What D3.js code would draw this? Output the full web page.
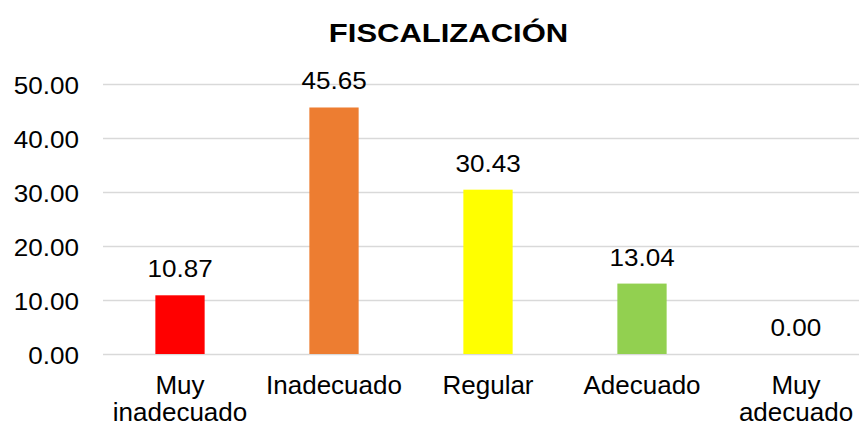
<!DOCTYPE html>
<html lang="es">
<head>
<meta charset="UTF-8">
<title>Fiscalización</title>
<script src="https://d3js.org/d3.v7.min.js"></script>
<style>
  body { margin: 0; background: #fff; }
  text { font-family: "Liberation Sans", Arial, sans-serif; fill: #000; }
</style>
</head>
<body>
<svg id="chart" width="859" height="426"></svg>
<script>
// data
var categories = [["Muy", "inadecuado"], ["Inadecuado"], ["Regular"], ["Adecuado"], ["Muy", "adecuado"]];
var values = [10.87, 45.65, 30.43, 13.04, 0.00];
var barColors = ["#ff0000", "#ed7d31", "#ffff00", "#92d050", "#a5a5a5"];
var yTicks = [0, 10, 20, 30, 40, 50];

var svg = d3.select("#chart");

var x = d3.scaleBand()
  .domain(d3.range(values.length))
  .range([103, 873])
  .paddingInner(0.68)
  .paddingOuter(0.34);

var y = d3.scaleLinear().domain([0, 50]).range([354, 84]);

// text with a horizontal stretch, like the original raster
function stretchText(g, tx, ty, size, sx, anchor, str, weight) {
  return g.append("text")
    .attr("transform", "translate(" + tx + "," + ty + ") scale(" + sx + ",1)")
    .attr("text-anchor", anchor)
    .style("font-size", size + "px")
    .style("font-weight", weight || "normal")
    .text(str);
}

// title
stretchText(svg, 448.5, 42, 26.5, 1.17, "middle", "FISCALIZACIÓN", "bold");

// gridlines
svg.append("g")
  .selectAll("line").data(yTicks).enter().append("line")
  .attr("x1", 103).attr("x2", 859)
  .attr("y1", function(d) { return Math.round(y(d)) + 0.5; })
  .attr("y2", function(d) { return Math.round(y(d)) + 0.5; })
  .attr("stroke", "#d9d9d9")
  .attr("stroke-width", 1.3);

// y tick labels
var yLab = svg.append("g");
yTicks.forEach(function(t) {
  stretchText(yLab, 79, y(t) + 9.7, 23.3, 1.12, "end", d3.format(".2f")(t));
});

// bars
svg.append("g")
  .selectAll("rect").data(values).enter().append("rect")
  .attr("x", function(d, i) { return x(i); })
  .attr("y", function(d) { return y(d); })
  .attr("width", x.bandwidth())
  .attr("height", function(d) { return y(0) - y(d); })
  .attr("fill", function(d, i) { return barColors[i]; });

// value labels
var vLab = svg.append("g");
values.forEach(function(v, i) {
  stretchText(vLab, x(i) + x.bandwidth() / 2, y(v) - 18, 23.3, 1.12, "middle", d3.format(".2f")(v));
});

// category labels
var cLab = svg.append("g");
categories.forEach(function(lines, i) {
  lines.forEach(function(s, j) {
    stretchText(cLab, x(i) + x.bandwidth() / 2, 394 + j * 26.5, 26, 1.0, "middle", s);
  });
});
</script>
</body>
</html>
